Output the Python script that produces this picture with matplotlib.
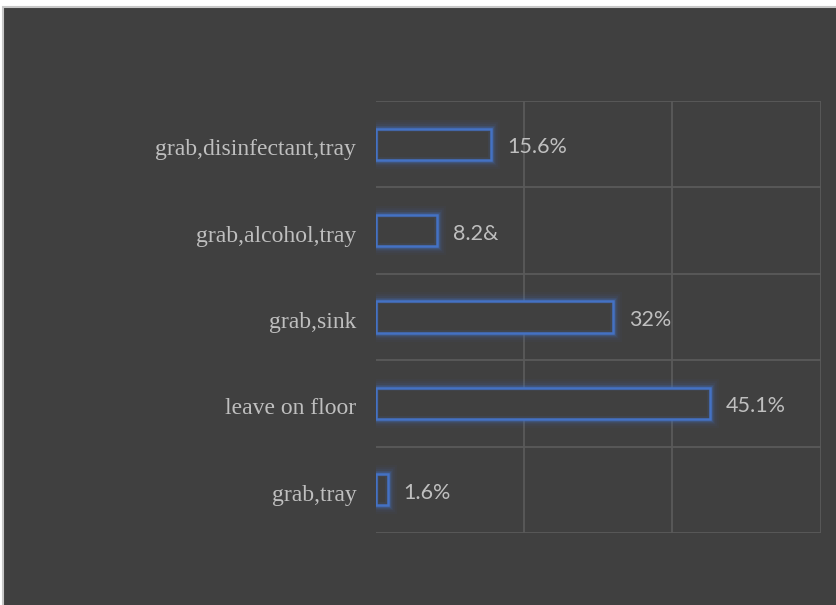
import matplotlib
matplotlib.use("Agg")
import matplotlib.pyplot as plt
import matplotlib.transforms as mtransforms
from matplotlib.patches import Rectangle

categories = ["grab,tray", "leave on floor", "grab,sink", "grab,alcohol,tray", "grab,disinfectant,tray"]
values = [1.6, 45.1, 32, 8.2, 15.6]
value_labels = ["1.6%", "45.1%", "32%", "8.2&", "15.6%"]
x_ticks = [0, 20, 40, 60]

W, H = 836, 605
BG = "#404040"
GRID = "#5a5a5a"
BLUE = "#4472C4"
TXT = "#BFBFBF"

fig = plt.figure(figsize=(W / 100, H / 100), dpi=100, facecolor="white")
# dark panel with light border (top/left only visible)
fig.patches.append(Rectangle((3 / W, -0.05), 1.1, 1 - 7 / H + 0.05, transform=fig.transFigure,
                             facecolor=BG, edgecolor="#c8c8c8", linewidth=1.5, zorder=-10))

left, right, top, bottom = 375.7, 820.7, 101.0, 533.0
ax = fig.add_axes([left / W, 1 - bottom / H, (right - left) / W, (bottom - top) / H])
ax.set_zorder(5)
ax.set_facecolor("none")
ax.set_xlim(0, 60)
ax.set_ylim(-0.5, len(categories) - 0.5)

# gridlines
for xv in x_ticks[1:]:
    ax.axvline(xv, color=GRID, lw=1.3, zorder=1)
for k in range(len(categories) + 1):
    ax.axhline(k - 0.5, color=GRID, lw=1.3, zorder=1)

ypos = list(range(len(categories)))
bh = 0.36
# glow
for lw, a in [(13, 0.04), (10, 0.06), (7.5, 0.09), (5, 0.13), (3.5, 0.18)]:
    ax.barh(ypos, values, height=bh, left=0, facecolor="none", edgecolor=BLUE,
            linewidth=lw, alpha=a, zorder=2)
ax.barh(ypos, values, height=bh, left=0, facecolor=BG, edgecolor=BLUE, linewidth=1.8, zorder=3)
# inner glow
ax.barh(ypos, values, height=bh, left=0, facecolor="none", edgecolor=BLUE,
        linewidth=4, alpha=0.12, zorder=3)

for y, v, lab in zip(ypos, values, value_labels):
    ax.annotate(lab, xy=(v, y), xytext=(16, -3), textcoords="offset pixels",
                va="center", ha="left", fontsize=15.5, color=TXT, family=["Lato", "DejaVu Sans"],
                zorder=4)

ax.set_yticks(ypos)
ax.set_yticklabels(categories, fontsize=17, color=TXT, family=["Liberation Serif", "DejaVu Serif"])
ax.tick_params(axis="y", length=0, pad=14)
off = mtransforms.ScaledTranslation(0, -3 / 100, fig.dpi_scale_trans)
for lbl in ax.get_yticklabels():
    lbl.set_transform(lbl.get_transform() + off)
ax.set_xticks([])
for s in ax.spines.values():
    s.set_visible(False)

fig.savefig("out.png", dpi=100, facecolor="white")
